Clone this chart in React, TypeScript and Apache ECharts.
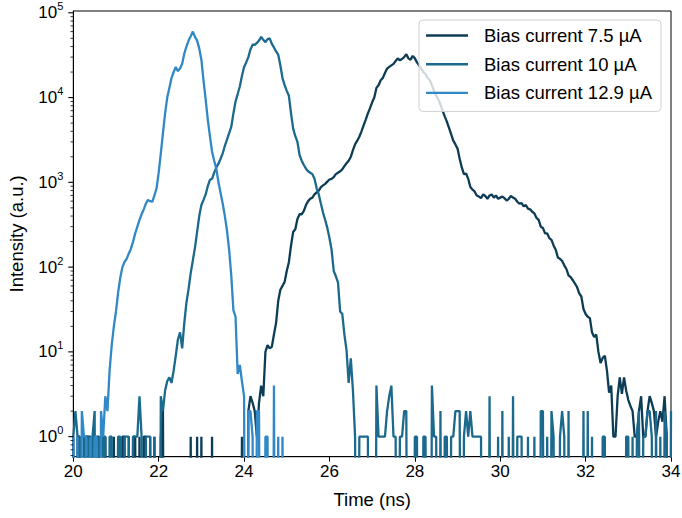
import React, { useEffect, useRef } from "react";
import * as echarts from "echarts";

// Time axis: one bin every 0.05 ns starting at 20 ns
const T_START = 20;
const T_STEP = 0.05;

const seriesNames = ["Bias current 7.5 µA", "Bias current 10 µA", "Bias current 12.9 µA"];
const seriesColors = ["#0d3d56", "#1b6a8d", "#3089c6"];

// Intensity (a.u.), 0 = no counts
const counts75 = [
  1, 0, 1, 1, 0, 0, 1, 1, 1, 0, 0, 1, 1, 0, 0, 1, 0, 0, 0, 1,
  0, 1, 0, 1, 1, 0, 1, 0, 1, 1, 0, 1, 0, 1, 1, 0, 1, 0, 1, 0,
  0, 1, 2, 0, 0, 0, 0, 0, 0, 0, 0, 0, 0, 0, 0, 1, 0, 0, 1, 0,
  1, 0, 0, 0, 0, 1, 0, 0, 0, 0, 0, 0, 0, 0, 0, 0, 0, 0, 0, 1,
  0, 0, 2, 3, 2.5, 2, 1, 2.5, 4, 3, 10, 12, 11, 11.5, 16, 22, 40, 54, 60, 67,
  90, 115, 180, 260, 280, 370, 420, 420, 460, 540, 600, 640, 660, 720, 760, 800, 880, 920, 960, 1020,
  1080, 1100, 1150, 1250, 1300, 1350, 1420, 1550, 1680, 1800, 2000, 2400, 2800, 3100, 3450, 4000, 4700, 5500, 6500, 7500,
  8800, 10000, 13000, 14000, 16000, 17000, 19500, 22000, 23000, 24000, 25000, 27000, 29000, 27500, 28500, 30000, 32500, 29000, 28000, 31000,
  29000, 26000, 24000, 22000, 20000, 19000, 17000, 16000, 14000, 12000, 10500, 9500, 8300, 7000, 6000, 5200, 4400, 3700, 3100, 2800,
  2500, 1900, 1500, 1250, 1270, 1100, 880, 820, 780, 700, 680, 650, 720, 690, 640, 700, 720, 660, 700, 640,
  660, 680, 650, 610, 640, 690, 660, 640, 590, 560, 570, 520, 540, 490, 480, 450, 430, 380, 360, 300,
  290, 250, 250, 220, 210, 180, 160, 130, 125, 118, 105, 95, 80, 76, 70, 64, 58, 49, 45, 32,
  28, 26, 25, 17, 15, 16, 10, 7.4, 8.5, 9, 6, 3.3, 4, 1, 1, 3, 5, 3.2, 5, 3.5,
  2.7, 2.3, 2, 1, 1, 2, 3, 1, 1, 2, 3, 2.5, 2, 1, 1.5, 2, 1.5, 3, 1, 0,
  0,
];

const counts10 = [
  1, 2, 1, 1, 0, 1, 1, 1, 0, 1, 2, 0, 1, 0, 1, 1, 0, 1, 1, 0,
  0, 1, 1, 0, 1, 1, 1, 0, 1, 1, 1, 3, 1, 0, 1, 1, 1, 0, 1, 0,
  0, 3, 2, 3.5, 4.5, 5, 4.3, 6, 9, 14, 17, 11, 22, 38, 55, 85, 120, 170, 260, 400,
  540, 620, 720, 900, 1070, 1100, 1300, 1500, 1660, 1900, 2200, 2700, 3200, 3800, 4500, 6500, 9000, 11000, 13500, 18000,
  23000, 26000, 30000, 37000, 42000, 42000, 44000, 47000, 52000, 48000, 45000, 49000, 50000, 43000, 39000, 35000, 32000, 24000, 17000, 14000,
  12000, 10500, 6500, 4300, 3500, 3000, 2100, 1800, 1600, 1450, 1350, 1300, 1250, 1100, 850, 720, 560, 440, 360, 290,
  220, 160, 90, 78, 66, 30, 28, 16, 10.5, 4.3, 8.4, 3.5, 1, 0, 1, 1, 1, 1, 1, 0,
  0, 0, 4, 1, 1, 1, 1, 2, 3, 4, 1, 1, 0, 1, 1, 2, 2, 0, 0, 0,
  1, 1, 0, 0, 1, 1, 0, 0, 4, 1, 1, 0, 2, 0, 1, 1, 0, 1, 1, 2,
  2, 2, 0, 1, 2, 1, 2, 1, 1, 1, 1, 1, 0, 0, 0, 3, 0, 0, 0, 1,
  0, 2, 0, 0, 1, 0, 3, 0, 1, 1, 1, 0, 0, 1, 0, 0, 1, 0, 0, 2,
  2, 0, 1, 0, 2, 1, 0, 0, 1, 2, 1, 0, 2, 0, 0, 0, 0, 0, 0, 2,
  0, 2, 0, 1, 0, 0, 0, 0, 1, 1, 0, 0, 0, 0, 0, 0, 0, 0, 0, 1,
  1, 0, 1, 0, 1, 2, 0, 1, 1, 2, 2, 1, 0, 2, 0, 1, 0, 2, 1, 0,
  2,
];

// after 24.95 ns this series stays at 0
const counts129 = [
  1, 0, 1, 0, 2, 1, 1, 0, 1, 0, 1, 1, 0, 2, 1, 3, 2, 6, 12, 20,
  30, 50, 75, 100, 115, 125, 145, 165, 200, 250, 300, 360, 420, 480, 560, 620, 600, 590, 700, 850,
  1300, 2200, 3800, 6500, 10000, 13000, 17000, 20000, 23000, 20500, 22000, 25000, 33000, 40000, 47000, 53000, 60000, 52000, 47000, 38000,
  28000, 16000, 9500, 5500, 3500, 2300, 1800, 1450, 1000, 750, 560, 400, 270, 160, 80, 31, 26, 5.5, 7, 4.5,
  3, 0, 2, 2, 1, 0, 2, 2, 0, 0, 1, 1, 0, 0, 4, 0, 1, 0, 1, 0,
];

const xMin = 20;
const xMax = 34;
const xInterval = 2;
const yMin = 0.58;
const yMax = 1.05e5;
const yDecades = [1, 10, 100, 1000, 10000, 100000];
const yMinorSteps = [2, 3, 4, 5, 6, 7, 8, 9];
const yBelowOne = [0.6, 0.7, 0.8, 0.9];

const FONT = "'Liberation Sans', Arial, sans-serif";
const ZERO_ON_LOG = 1e-6; // zero counts drawn far below the axis (clipped)

function toPoints(vals: number[]) {
  return vals.map((v, i) => [+(T_START + i * T_STEP).toFixed(2), v > 0 ? v : ZERO_ON_LOG]);
}

export default function App() {
  const ref = useRef<HTMLDivElement>(null);

  useEffect(() => {
    const chart = echarts.init(ref.current!, null, { renderer: "svg" });

    const tickData: number[][] = [];
    yBelowOne.forEach((v) => tickData.push([xMin, v, 0]));
    yDecades.forEach((d, k) => {
      tickData.push([xMin, d, 1]);
      if (k < yDecades.length - 1) yMinorSteps.forEach((m) => tickData.push([xMin, d * m, 0]));
    });

    const allCounts = [counts75, counts10, counts129];

    chart.setOption({
      animation: false,
      backgroundColor: "#ffffff",
      textStyle: { fontFamily: FONT },
      grid: {
        left: 73.3,
        right: 11,
        top: 11,
        bottom: 61.3,
        show: true,
        borderColor: "#000",
        borderWidth: 1,
        backgroundColor: "transparent",
        outerBoundsMode: "none",
      },
      legend: {
        data: seriesNames,
        orient: "vertical",
        left: 419,
        top: 20,
        icon: "rect",
        itemWidth: 42,
        itemHeight: 2.4,
        itemGap: 9.7,
        padding: [6, 9, 9, 7],
        backgroundColor: "rgba(255,255,255,0.8)",
        borderColor: "#d0d0d0",
        borderWidth: 1,
        borderRadius: 4,
        selectedMode: false,
        formatter: (name: string) => `{t|${name}}`,
        textStyle: {
          rich: {
            t: { fontSize: 18.5, color: "#000", fontFamily: FONT, lineHeight: 18, padding: [0, 0, 0, 11] },
          },
        },
      },
      xAxis: {
        type: "value",
        min: xMin,
        max: xMax,
        interval: xInterval,
        axisLine: { onZero: false, lineStyle: { color: "#000", width: 1 } },
        axisTick: { length: 5, lineStyle: { color: "#000", width: 1 } },
        axisLabel: { color: "#000", fontSize: 17, margin: 6, fontFamily: FONT },
        splitLine: { show: false },
        name: "Time (ns)",
        nameLocation: "middle",
        nameGap: 33,
        nameTextStyle: { color: "#000", fontSize: 18.5, fontFamily: FONT },
      },
      yAxis: {
        type: "log",
        logBase: 10,
        min: yMin,
        max: yMax,
        axisLine: { show: true, onZero: false, lineStyle: { color: "#000", width: 1 } },
        axisTick: { show: false },
        minorTick: { show: false },
        splitLine: { show: false },
        minorSplitLine: { show: false },
        axisLabel: {
          margin: 10,
          showMinLabel: false,
          showMaxLabel: false,
          formatter: (v: number) => {
            const k = Math.log10(v);
            if (Math.abs(k - Math.round(k)) > 1e-6) return "";
            return `{b|10}{s|${Math.round(k)}}`;
          },
          rich: {
            b: { fontSize: 17, color: "#000", fontFamily: FONT },
            s: { fontSize: 11, color: "#000", fontFamily: FONT, padding: [0, 0, 13, 0] },
          },
        },
        name: "Intensity (a.u.)",
        nameLocation: "middle",
        nameGap: 47,
        nameRotate: 90,
        nameTextStyle: { color: "#000", fontSize: 18.5, fontFamily: FONT },
      },
      series: [
        ...allCounts.map((vals, idx) => ({
          type: "line",
          name: seriesNames[idx],
          data: toPoints(vals),
          showSymbol: false,
          symbol: "none",
          clip: true,
          z: 2 + idx,
          itemStyle: { color: seriesColors[idx] },
          lineStyle: { color: seriesColors[idx], width: 2.3 },
        })),
        {
          type: "custom",
          name: "yticks",
          coordinateSystem: "cartesian2d",
          silent: true,
          clip: false,
          z: 6,
          data: tickData,
          renderItem: (_params: any, api: any) => {
            const p = api.coord([api.value(0), api.value(1)]);
            const major = api.value(2) === 1;
            const len = major ? 5 : 2.8;
            return {
              type: "line",
              shape: { x1: p[0] - len, y1: p[1], x2: p[0], y2: p[1] },
              style: { stroke: "#000", lineWidth: major ? 1.1 : 0.8 },
            };
          },
        },
      ],
    });

    return () => chart.dispose();
  }, []);

  return <div ref={ref} style={{ position: "fixed", left: 0, top: 0, width: 682, height: 518 }} />;
}
